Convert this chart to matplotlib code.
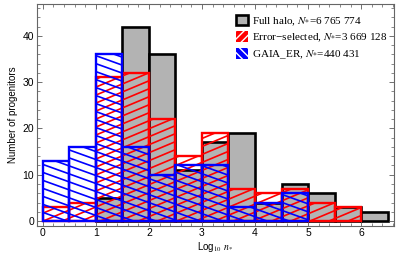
import numpy as np
import matplotlib
matplotlib.use('Agg')
import matplotlib.pyplot as plt
from matplotlib.collections import LineCollection
from matplotlib.patches import Patch

# bins of log10 n*, width 0.5
bin_left = np.arange(0, 6.5, 0.5)
full_halo = [0, 0, 5, 42, 36, 11, 17, 19, 4, 8, 6, 3, 2]
error_sel = [3, 4, 31, 32, 22, 14, 19, 7, 6, 7, 4, 3, 0]
gaia_er = [13, 16, 36, 16, 10, 12, 12, 3, 4, 6, 0, 0, 0]

labels = ['Full halo, $N_{*}$=6 765 774',
          'Error\u2212selected, $N_{*}$=3 669 128',
          'GAIA_ER, $N_{*}$=440 431']

plt.rcParams['font.family'] = ['Liberation Sans', 'DejaVu Sans']
plt.rcParams['mathtext.fontset'] = 'stix'

fig = plt.figure(figsize=(3.99, 2.62), dpi=100)
ax = fig.add_axes([0.0927, 0.1385, 0.8948, 0.8451])
W, H = 357.0, 221.7  # axes size in pixels


def hatch_segments(slope, step):
    # lines in axes-pixel space, returned in axes fraction
    segs = []
    for c in np.arange(-abs(slope) * W - step, H + abs(slope) * W + step, step):
        segs.append([(0, c / H), (1, (c + slope * W) / H)])
    return segs


def draw_series(vals, face, edge, lw, z, slope=None):
    vals = np.array(vals)
    m = vals > 0
    bars = ax.bar(bin_left[m], vals[m], width=0.5, align='edge',
                  facecolor=face, edgecolor=edge, linewidth=lw, zorder=z)
    if slope is not None:
        for rect in bars:
            lc = LineCollection(hatch_segments(slope, 8.0), colors=edge,
                                linewidths=1.2, transform=ax.transAxes,
                                zorder=z - 0.5)
            ax.add_collection(lc)
            lc.set_clip_path(rect)
    return bars


draw_series(full_halo, '#b3b3b3', 'black', 1.9, 1)
draw_series(error_sel, 'none', '#ff0000', 1.7, 3, slope=0.42)
draw_series(gaia_er, 'none', '#0000ff', 1.7, 5, slope=-0.36)

ax.set_xlim(-0.11, 6.62)
ax.set_ylim(-1.0, 46.8)
ax.set_xticks(range(0, 7))
ax.set_yticks(range(0, 41, 10))
ax.set_xticks(np.arange(0, 6.61, 0.2), minor=True)
ax.set_yticks(np.arange(0, 46.8, 2), minor=True)
ax.tick_params(which='both', direction='in', top=True, right=True,
               labelsize=7.5, colors='0.35', labelcolor='black', pad=2)
ax.tick_params(which='major', length=3.5, width=0.6)
ax.tick_params(which='minor', length=2, width=0.5)
for s in ax.spines.values():
    s.set_color('0.4')
    s.set_linewidth(0.8)

ax.set_ylabel('Number of progenitors', fontsize=7, labelpad=3)
ax.set_xlabel('Log$_{10}$ $n_{*}$', fontsize=7, labelpad=1)

handles = [Patch(facecolor='#b3b3b3', edgecolor='black', linewidth=1.9),
           Patch(facecolor='#ff0000', edgecolor='white', linewidth=0, hatch='////'),
           Patch(facecolor='#0000ff', edgecolor='white', linewidth=0, hatch='\\\\\\\\')]
fig.legend(handles, labels, loc='upper left', bbox_to_anchor=(0.578, 0.965),
           frameon=False, borderpad=0, handlelength=1.1, handleheight=1.1,
           handletextpad=0.3, labelspacing=0.35,
           prop={'family': 'Liberation Serif', 'size': 8})

fig.savefig('out.png', dpi=100)
